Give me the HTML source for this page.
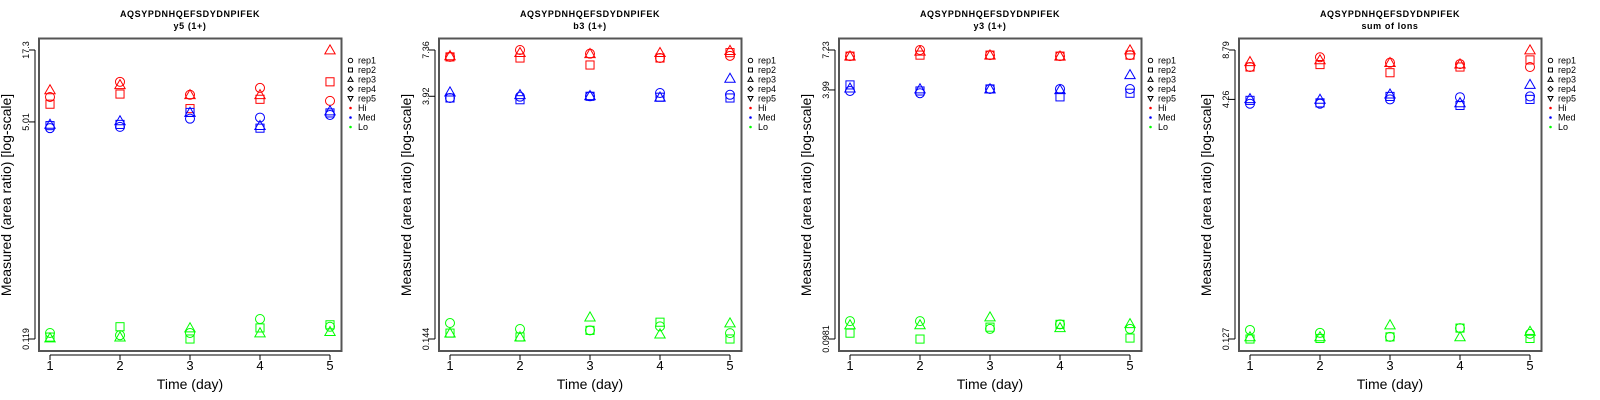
<!DOCTYPE html>
<html><head><meta charset="utf-8"><style>
body{margin:0;background:#fff;width:1600px;height:400px;overflow:hidden}
svg{display:block;font-family:"Liberation Sans",sans-serif}
</style></head><body>
<svg id="chart" width="1600" height="400"></svg>
<script>
const days=[1,2,3,4,5];
const panelTitles=["y5 (1+)","b3 (1+)","y3 (1+)","sum of Ions"];
const peptide="AQSYPDNHQEFSDYDNPIFEK";
const yTicks=[[0.119,5.01,17.3],[0.144,3.92,7.36],[0.0981,3.99,7.23],[0.127,4.26,8.79]];
const yTickLabels=[["0.119","5.01","17.3"],["0.144","3.92","7.36"],["0.0981","3.99","7.23"],["0.127","4.26","8.79"]];
const groups=["Hi","Med","Lo"];
const reps=["rep1","rep2","rep3","rep4","rep5"];
// panel 1
const p1Hi=[[7.7,10.0,8.0,9.0,7.2],[6.8,8.1,6.3,7.4,10.0],[8.7,9.5,8.0,8.0,17.3]];
const p1Med=[[4.5,4.6,5.3,5.4,5.65],[4.7,4.8,5.9,4.5,5.85],[4.8,5.1,5.9,4.7,6.05]];
const p1Lo=[[0.132,0.127,0.132,0.168,0.147],[0.123,0.147,0.119,0.144,0.152],[0.121,0.123,0.144,0.132,0.135]];
// panel 2
const p2Hi=[[6.7,7.36,7.0,6.6,6.8],[6.7,6.6,6.0,6.6,7.1],[6.8,7.1,7.0,7.1,7.3]];
const p2Med=[[3.83,3.9,3.92,4.1,4.0],[3.83,3.74,3.92,3.87,3.83],[4.15,4.0,3.95,3.87,5.0]];
const p2Lo=[[0.179,0.165,0.162,0.171,0.156],[0.156,0.148,0.162,0.181,0.144],[0.156,0.148,0.194,0.154,0.179]];
// panel 3
const p3Hi=[[6.6,7.23,6.7,6.6,6.7],[6.6,6.7,6.7,6.6,6.7],[6.6,7.1,6.7,6.6,7.23]];
const p3Med=[[3.93,3.8,4.05,4.05,4.05],[4.3,3.93,4.05,3.6,3.8],[4.1,4.05,4.05,4.0,5.0]];
const p3Lo=[[0.128,0.128,0.114,0.122,0.114],[0.107,0.098,0.117,0.122,0.0995],[0.121,0.121,0.136,0.116,0.123]];
// panel 4
const p4Hi=[[6.85,7.9,7.3,7.15,6.85],[6.85,7.1,6.3,6.85,7.6],[7.4,7.6,7.3,7.15,8.79]];
const p4Med=[[4.0,4.0,4.26,4.4,4.45],[4.2,4.05,4.45,3.9,4.26],[4.3,4.26,4.6,4.05,5.3]];
const p4Lo=[[0.145,0.139,0.131,0.149,0.137],[0.127,0.128,0.131,0.149,0.128],[0.131,0.131,0.156,0.131,0.142]];
const panelData=[[p1Hi,p1Med,p1Lo],[p2Hi,p2Med,p2Lo],[p3Hi,p3Med,p3Lo],[p4Hi,p4Med,p4Lo]];
const colors=["#ff0000","#0000ff","#00ff00"];

const NS="http://www.w3.org/2000/svg";
const svg=document.getElementById('chart');
function mk(tag,attrs,parent,text){const e=document.createElementNS(NS,tag);for(const k in attrs)e.setAttribute(k,attrs[k]);if(text!==undefined)e.textContent=text;(parent||svg).appendChild(e);return e;}
function marker(g,shape,x,y,col,r){
  let e;
  if(shape===0){e=mk('circle',{cx:x,cy:y,r:r,fill:'none',stroke:col,'stroke-width':1},g);}
  else if(shape===1){e=mk('rect',{x:x-r*0.9,y:y-r*0.9,width:r*1.8,height:r*1.8,fill:'none',stroke:col,'stroke-width':1},g);}
  else {const h=r*1.15;e=mk('polygon',{points:`${x},${y-h} ${x+h},${y+h*0.75} ${x-h},${y+h*0.75}`,fill:'none',stroke:col,'stroke-width':1},g);}
  return e;
}
for(let p=0;p<4;p++){
  const ox=p*400;
  const g=mk('g',{transform:`translate(${ox},0)`});
  
  
  const tmin=yTicks[p][0],tmax=yTicks[p][2];
  const fy=v=>50+(Math.log10(tmax)-Math.log10(v))/(Math.log10(tmax)-Math.log10(tmin))*289;
  const fx=d=>50+(d-1)*70;
  let t=mk('text',{x:190,y:17,'text-anchor':'middle','font-size':9,'font-weight':'bold','letter-spacing':'0.6'},g,peptide);
  
  t=mk('text',{x:190,y:29,'text-anchor':'middle','font-size':9,'font-weight':'bold','letter-spacing':'0.6'},g,panelTitles[p]);
  
  const box=mk('rect',{x:39,y:38.5,width:302.5,height:312.5,fill:'none',stroke:'#555','stroke-width':2},g);
  
  // x axis
  const xa=mk('g',{},g);
  mk('line',{x1:fx(1),x2:fx(5),y1:355,y2:355,stroke:'#000'},xa);
  days.forEach(d=>{mk('line',{x1:fx(d),x2:fx(d),y1:355,y2:360,stroke:'#000'},xa);
    const l=mk('text',{x:fx(d),y:370,'text-anchor':'middle','font-size':13},xa,String(d));
    });
  t=mk('text',{x:190,y:389,'text-anchor':'middle','font-size':14},g,'Time (day)');
  
  // y axis
  const ya=mk('g',{},g);
  mk('line',{x1:35,x2:35,y1:fy(tmax),y2:fy(tmin),stroke:'#000'},ya);
  yTicks[p].forEach((v,i)=>{const y=fy(v);mk('line',{x1:29,x2:35,y1:y,y2:y,stroke:'#000'},ya);
    const l=mk('text',{x:0,y:0,transform:`translate(29,${y}) rotate(-90)`,'text-anchor':'middle','font-size':9},ya,yTickLabels[p][i]);
    });
  t=mk('text',{x:0,y:0,transform:'translate(11,195) rotate(-90)','text-anchor':'middle','font-size':14},g,'Measured (area ratio) [log-scale]');
  
  // points
  panelData[p].forEach((grp,gi)=>{
    const sg=mk('g',{},g);
    
    
    grp.forEach((vals,ri)=>{vals.forEach((v,di)=>{
      const m=marker(sg,ri,fx(days[di]),fy(v),colors[gi],4.5);
      
      
    });});
  });
  // legend
  const lg=mk('g',{},g);
  const ly=[60.5,70,79.5,89,98.5,108,117.5,127];
  reps.forEach((r,i)=>{
    if(i<3)marker(lg,i,350.5,ly[i],'#000',2.2);
    else if(i===3)mk('polygon',{points:`350.5,${ly[i]-2.5} 353,${ly[i]} 350.5,${ly[i]+2.5} 348,${ly[i]}`,fill:'none',stroke:'#000'},lg);
    else mk('polygon',{points:`348,${ly[i]-2} 353,${ly[i]-2} 350.5,${ly[i]+2.5}`,fill:'none',stroke:'#000'},lg);
    const l=mk('text',{x:358,y:ly[i]+3,'font-size':9},lg,r);
    
  });
  groups.forEach((n,i)=>{const y=ly[5+i];mk('circle',{cx:350.5,cy:y,r:1.3,fill:colors[i]},lg);
    const l=mk('text',{x:358,y:y+3,'font-size':9},lg,n);
    });
}
</script>
</body></html>
